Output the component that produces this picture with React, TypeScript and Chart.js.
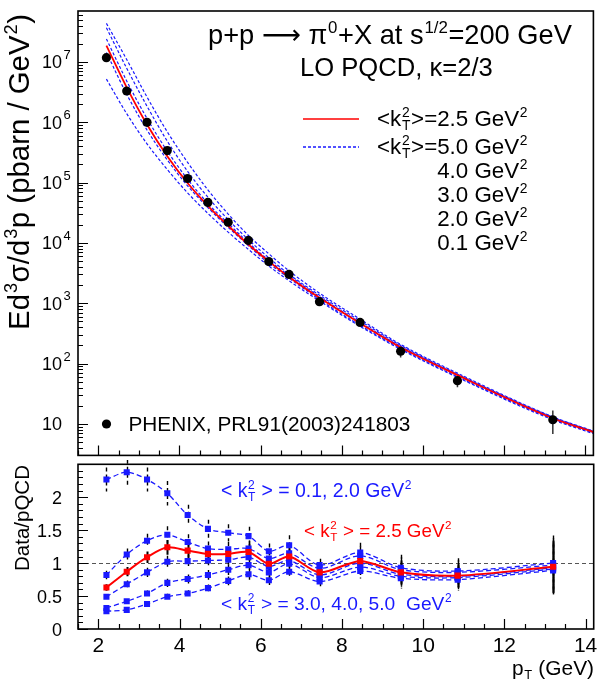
import React, { useEffect, useRef } from 'react';
import { Chart, registerables } from 'chart.js';

Chart.register(...registerables);

// ---------------- data ----------------
const pT = [2.2, 2.7, 3.2, 3.7, 4.2, 4.7, 5.2, 5.7, 6.2, 6.7, 7.45, 8.45, 9.45, 10.85, 13.2];
const phenixYield = [1.18e7, 3.3e6, 1.0e6, 3.4e5, 1.17e5, 4.7e4, 2.2e4, 1.1e4, 4.9e3, 3.0e3, 1.06e3, 480, 160, 52, 11.7];
const phenixRelErr = [0.08, 0.08, 0.08, 0.09, 0.09, 0.09, 0.09, 0.1, 0.1, 0.12, 0.1, 0.13, 0.21, 0.22, 0.42];

const curvePT = [2.2, 2.7, 3.2, 3.7, 4.2, 4.7, 5.2, 5.7, 6.2, 6.7, 7.45, 8.45, 9.45, 10.85, 13.2, 14.2];
const pqcdKt25 = [1.87e7, 3.79e6, 9.17e5, 2.74e5, 9.83e4, 4.12e4, 1.93e4, 9.4e3, 4.95e3, 2.73e3, 1.23e3, 466, 186, 64.2, 12.4, 7.3];
const pqcdKt01 = [5.2e6, 1.39e6, 4.4e5, 1.65e5, 6.76e4, 3.09e4, 1.51e4, 7.8e3, 4.15e3, 2.36e3, 1.09e3, 414, 172, 59, 11.7, 6.9];
const pqcdKt20 = [1.44e7, 2.92e6, 7.46e5, 2.38e5, 8.86e4, 3.85e4, 1.82e4, 9.0e3, 4.58e3, 2.61e3, 1.15e3, 432, 178, 60.5, 12.1, 7.1];
const pqcdKt30 = [2.41e7, 4.85e6, 1.16e6, 3.33e5, 1.14e5, 4.52e4, 2.1e4, 1.01e4, 5.16e3, 2.88e3, 1.29e3, 480, 193, 65, 12.6, 7.4];
const pqcdKt40 = [3.69e7, 7.86e6, 1.85e6, 4.86e5, 1.54e5, 5.73e4, 2.44e4, 1.13e4, 5.7e3, 3.03e3, 1.36e3, 511, 200, 66.7, 12.9, 7.5];
const pqcdKt50 = [4.37e7, 1.1e7, 2.63e6, 6.94e5, 2.17e5, 7.58e4, 3.01e4, 1.33e4, 6.62e3, 3.45e3, 1.47e3, 545, 208, 69.3, 13.1, 7.6];

const ratioKt01 = [2.27, 2.38, 2.27, 2.06, 1.73, 1.52, 1.46, 1.41, 1.18, 1.27, 0.97, 1.16, 0.93, 0.88, 1.0];
const ratioKt20 = [0.82, 1.13, 1.34, 1.43, 1.32, 1.22, 1.21, 1.22, 1.07, 1.15, 0.92, 1.11, 0.9, 0.86, 0.97];
const ratioKt25 = [0.63, 0.87, 1.09, 1.24, 1.19, 1.14, 1.14, 1.17, 0.99, 1.1, 0.86, 1.03, 0.86, 0.81, 0.945];
const ratioKt30 = [0.49, 0.68, 0.86, 1.02, 1.03, 1.04, 1.05, 1.09, 0.95, 1.04, 0.82, 1.0, 0.83, 0.8, 0.93];
const ratioKt40 = [0.32, 0.42, 0.54, 0.7, 0.76, 0.82, 0.9, 0.97, 0.86, 0.99, 0.78, 0.94, 0.8, 0.78, 0.91];
const ratioKt50 = [0.27, 0.29, 0.38, 0.49, 0.54, 0.62, 0.73, 0.83, 0.74, 0.87, 0.72, 0.88, 0.77, 0.75, 0.89];

const decadeExps = [1, 2, 3, 4, 5, 6, 7];
const xTickValues = [2, 4, 6, 8, 10, 12, 14];
const xTickLabels = ['2', '4', '6', '8', '10', '12', '14'];
const ratioTickValues = [0, 0.5, 1, 1.5, 2];
const ratioTickLabels = ['0', '0.5', '1', '1.5', '2'];
const legendKtLabels = ['4.0', '3.0', '2.0', '0.1'];

// ---------------- styling helpers ----------------
const FONT = '"Liberation Sans", "DejaVu Sans", Arial, sans-serif';
const BLUE = 'rgb(25,25,255)';
const RED = 'rgb(255,0,0)';

type Seg = { t: string; k?: 'sup' | 'sub' | 'supsub'; t2?: string };

function segW(ctx: CanvasRenderingContext2D, s: Seg, size: number): number {
  if (!s.k) {
    ctx.font = `${size}px ${FONT}`;
    return ctx.measureText(s.t).width;
  }
  const ss = size * 0.62;
  ctx.font = `${ss}px ${FONT}`;
  if (s.k === 'supsub') {
    return Math.max(ctx.measureText(s.t).width, ctx.measureText(s.t2 || '').width) + size * 0.06;
  }
  return ctx.measureText(s.t).width + size * 0.05;
}

function richW(ctx: CanvasRenderingContext2D, segs: Seg[], size: number) {
  let w = 0;
  for (const s of segs) w += segW(ctx, s, size);
  return w;
}

function fitSize(ctx: CanvasRenderingContext2D, segs: Seg[], target: number) {
  return (100 * target) / richW(ctx, segs, 100);
}

function drawRich(
  ctx: CanvasRenderingContext2D,
  segs: Seg[],
  x: number,
  y: number,
  size: number,
  align: 'left' | 'right' | 'center',
  color: string
) {
  const w = richW(ctx, segs, size);
  let cx = align === 'left' ? x : align === 'right' ? x - w : x - w / 2;
  ctx.fillStyle = color;
  ctx.textBaseline = 'alphabetic';
  ctx.textAlign = 'left';
  for (const s of segs) {
    const adv = segW(ctx, s, size);
    if (!s.k) {
      ctx.font = `${size}px ${FONT}`;
      ctx.fillText(s.t, cx, y);
    } else {
      ctx.font = `${size * 0.62}px ${FONT}`;
      const ox = cx + size * 0.03;
      if (s.k === 'sup') ctx.fillText(s.t, ox, y - size * 0.42);
      else if (s.k === 'sub') ctx.fillText(s.t, ox, y + size * 0.2);
      else {
        ctx.fillText(s.t, ox, y - size * 0.42);
        ctx.fillText(s.t2 || '', ox, y + size * 0.2);
      }
    }
    cx += adv;
  }
}

const kt = (rest: string, lead = '<k'): Seg[] => [
  { t: lead },
  { t: '2', k: 'supsub', t2: 'T' },
  { t: rest },
  { t: '2', k: 'sup' },
];

function drawFrameAndTicks(chart: any, yMajor: number[], yMinor: number[]) {
  const { ctx, chartArea: a, scales } = chart;
  const xs = scales.x;
  const ys = scales.y;
  ctx.save();
  ctx.strokeStyle = '#000';
  ctx.lineWidth = 1.2;
  ctx.beginPath();
  // x ticks (inside, from bottom)
  for (let v = 1.5; v <= 14.2001; v += 0.5) {
    const px = Math.round(xs.getPixelForValue(v)) + 0.5;
    const major = Math.abs(v / 2 - Math.round(v / 2)) < 1e-6;
    const len = major ? 10 : 5;
    ctx.moveTo(px, a.bottom);
    ctx.lineTo(px, a.bottom - len);
  }
  for (const v of yMajor) {
    const py = Math.round(ys.getPixelForValue(v)) + 0.5;
    ctx.moveTo(a.left, py);
    ctx.lineTo(a.left + 10, py);
  }
  for (const v of yMinor) {
    const py = Math.round(ys.getPixelForValue(v)) + 0.5;
    ctx.moveTo(a.left, py);
    ctx.lineTo(a.left + 5, py);
  }
  ctx.stroke();
  ctx.lineWidth = 1.6;
  ctx.strokeRect(a.left, a.top, a.right - a.left, a.bottom - a.top);
  ctx.restore();
}

// ---------------- top panel ----------------
const topPlugin = {
  id: 'topDecor',
  beforeDatasetsDraw(chart: any) {
    const { ctx, scales } = chart;
    ctx.save();
    ctx.strokeStyle = '#333';
    ctx.lineWidth = 1.5;
    ctx.beginPath();
    pT.forEach((x, i) => {
      const px = scales.x.getPixelForValue(x);
      const y1 = scales.y.getPixelForValue(phenixYield[i] * (1 + phenixRelErr[i]));
      const y2 = scales.y.getPixelForValue(phenixYield[i] * (1 - phenixRelErr[i]));
      ctx.moveTo(px, y1);
      ctx.lineTo(px, y2);
    });
    ctx.stroke();
    ctx.restore();
  },
  afterDraw(chart: any) {
    const { ctx, scales, chartArea: a } = chart;
    const ys = scales.y;
    const major = decadeExps.map((e) => Math.pow(10, e));
    const minor: number[] = [];
    for (let e = 0; e <= 7; e++)
      for (let k = 2; k <= 9; k++) {
        const v = k * Math.pow(10, e);
        if (v > ys.min && v < ys.max) minor.push(v);
      }
    drawFrameAndTicks(chart, major, minor);

    ctx.save();
    // y tick labels
    decadeExps.forEach((e) => {
      const py = ys.getPixelForValue(Math.pow(10, e));
      ctx.fillStyle = '#000';
      ctx.textAlign = 'right';
      ctx.textBaseline = 'alphabetic';
      ctx.font = `18px ${FONT}`;
      ctx.fillText('10', 62, py + 6.5);
      if (e > 1) {
        ctx.textAlign = 'left';
        ctx.font = `13px ${FONT}`;
        ctx.fillText(String(e), 63.5, py - 3);
      }
    });

    // y axis title
    const yTitle: Seg[] = [
      { t: 'Ed' },
      { t: '3', k: 'sup' },
      { t: 'σ/d' },
      { t: '3', k: 'sup' },
      { t: 'p (pbarn / GeV' },
      { t: '2', k: 'sup' },
      { t: ')' },
    ];
    const ys1 = fitSize(ctx, yTitle, 316);
    ctx.save();
    ctx.translate(29, 172);
    ctx.rotate(-Math.PI / 2);
    drawRich(ctx, yTitle, 0, 0, ys1, 'center', '#000');
    ctx.restore();

    // title
    const t1: Seg[] = [
      { t: 'p+p \u27f6 \u03c0' },
      { t: '0', k: 'sup' },
      { t: '+X at s' },
      { t: '1/2', k: 'sup' },
      { t: '=200 GeV' },
    ];
    drawRich(ctx, t1, 208, 44, fitSize(ctx, t1, 364), 'left', '#000');
    const t2: Seg[] = [{ t: 'LO PQCD, \u03ba=2/3' }];
    drawRich(ctx, t2, 300, 76, fitSize(ctx, t2, 193), 'left', '#000');

    // legend
    ctx.lineWidth = 1.6;
    ctx.strokeStyle = RED;
    ctx.beginPath();
    ctx.moveTo(303, 119);
    ctx.lineTo(359, 119);
    ctx.stroke();
    ctx.strokeStyle = BLUE;
    ctx.lineWidth = 1.3;
    ctx.setLineDash([3, 2]);
    ctx.beginPath();
    ctx.moveTo(303, 147);
    ctx.lineTo(359, 147);
    ctx.stroke();
    ctx.setLineDash([]);

    const l1 = kt('>=2.5 GeV');
    const ls = fitSize(ctx, l1, 151);
    drawRich(ctx, l1, 528, 126, ls, 'right', '#000');
    drawRich(ctx, kt('>=5.0 GeV'), 528, 154, ls, 'right', '#000');
    legendKtLabels.forEach((lab, i) => {
      drawRich(ctx, [{ t: lab + ' GeV' }, { t: '2', k: 'sup' }], 528, 178 + i * 24, ls, 'right', '#000');
    });

    // PHENIX legend
    ctx.fillStyle = '#000';
    ctx.beginPath();
    ctx.arc(106.5, 424, 4.6, 0, Math.PI * 2);
    ctx.fill();
    const ph: Seg[] = [{ t: 'PHENIX, PRL91(2003)241803' }];
    drawRich(ctx, ph, 128.5, 431, fitSize(ctx, ph, 282), 'left', '#000');
    ctx.restore();
  },
};

// ---------------- bottom panel ----------------
const ratioSeries = [ratioKt25, ratioKt01, ratioKt20, ratioKt30, ratioKt40, ratioKt50];

const bottomPlugin = {
  id: 'bottomDecor',
  beforeDatasetsDraw(chart: any) {
    const { ctx, scales, chartArea: a } = chart;
    ctx.save();
    // dashed reference line at 1
    ctx.strokeStyle = '#555';
    ctx.lineWidth = 1.2;
    ctx.setLineDash([4, 3]);
    ctx.beginPath();
    const p1 = Math.round(scales.y.getPixelForValue(1)) + 0.5;
    ctx.moveTo(a.left, p1);
    ctx.lineTo(a.right, p1);
    ctx.stroke();
    // error bars
    ctx.strokeStyle = '#000';
    ratioSeries.forEach((r, si) => {
      ctx.lineWidth = si === 0 ? 2 : 1.4;
      ctx.setLineDash(si === 0 ? [] : [4, 3]);
      ctx.beginPath();
      pT.forEach((x, i) => {
        const px = Math.round(scales.x.getPixelForValue(x)) + 0.5;
        ctx.moveTo(px, scales.y.getPixelForValue(r[i] * (1 + phenixRelErr[i])));
        ctx.lineTo(px, scales.y.getPixelForValue(r[i] * (1 - phenixRelErr[i])));
      });
      ctx.stroke();
    });
    ctx.restore();
  },
  afterDraw(chart: any) {
    const { ctx, scales } = chart;
    const minor: number[] = [];
    for (let i = 1; i <= 24; i++) if (i % 5 !== 0) minor.push(i / 10);
    drawFrameAndTicks(chart, ratioTickValues, minor);
    ctx.save();
    const off = chart.canvas.offsetTop || 0;
    ctx.fillStyle = '#000';
    ctx.textBaseline = 'alphabetic';
    ctx.font = `18px ${FONT}`;
    ctx.textAlign = 'right';
    ratioTickValues.forEach((v, i) => {
      ctx.fillText(ratioTickLabels[i], 62, scales.y.getPixelForValue(v) + 6.5);
    });
    ctx.font = `21px ${FONT}`;
    ctx.textAlign = 'center';
    xTickValues.forEach((v, i) => {
      ctx.fillText(xTickLabels[i], scales.x.getPixelForValue(v), 652 - 460);
    });
    const xt: Seg[] = [{ t: 'p' }, { t: 'T', k: 'sub' }, { t: ' (GeV)' }];
    drawRich(ctx, xt, 594, 675 - 460, fitSize(ctx, xt, 82), 'right', '#000');

    const yt: Seg[] = [{ t: 'Data/pQCD' }];
    ctx.save();
    ctx.translate(29, 518 - 460);
    ctx.rotate(-Math.PI / 2);
    drawRich(ctx, yt, 0, 0, fitSize(ctx, yt, 106), 'center', '#000');
    ctx.restore();

    const b1 = kt(' > = 0.1, 2.0 GeV', '< k');
    drawRich(ctx, b1, 221, 497 - 460, fitSize(ctx, b1, 191), 'left', BLUE);
    const b2 = kt(' > = 2.5 GeV', '< k');
    drawRich(ctx, b2, 304, 537 - 460, fitSize(ctx, b2, 148), 'left', RED);
    const b3 = kt(' > = 3.0, 4.0, 5.0  GeV', '< k');
    drawRich(ctx, b3, 221, 610 - 460, fitSize(ctx, b3, 231), 'left', BLUE);
    ctx.restore();
    void off;
  },
};

function xy(xs: number[], ys: number[]) {
  return xs.map((x, i) => ({ x, y: ys[i] }));
}

export default function App() {
  const topRef = useRef<HTMLCanvasElement>(null);
  const botRef = useRef<HTMLCanvasElement>(null);

  useEffect(() => {
    const blueCurve = (d: number[]) => ({
      data: xy(curvePT, d),
      borderColor: BLUE,
      borderWidth: 1.2,
      borderDash: [3, 2],
      pointRadius: 0,
      fill: false,
      cubicInterpolationMode: 'monotone' as const,
    });
    const top = new Chart(topRef.current!, {
      type: 'line',
      data: {
        datasets: [
          {
            data: xy(pT, phenixYield),
            showLine: false,
            pointRadius: 4.6,
            pointBackgroundColor: '#000',
            pointBorderColor: '#000',
            pointBorderWidth: 0,
          },
          {
            data: xy(curvePT, pqcdKt25),
            borderColor: RED,
            borderWidth: 1.8,
            pointRadius: 0,
            fill: false,
            cubicInterpolationMode: 'monotone',
          },
          blueCurve(pqcdKt01),
          blueCurve(pqcdKt20),
          blueCurve(pqcdKt30),
          blueCurve(pqcdKt40),
          blueCurve(pqcdKt50),
        ] as any,
      },
      options: {
        responsive: false,
        animation: false,
        devicePixelRatio: 1,
        layout: { padding: { left: 78, right: 2, top: 11, bottom: 3 } },
        plugins: { legend: { display: false }, tooltip: { enabled: false } },
        scales: {
          x: { type: 'linear', min: 1.5, max: 14.2, display: false },
          y: { type: 'logarithmic', min: 3, max: 7e7, display: false },
        },
      },
      plugins: [topPlugin],
    });

    const ratioSet = (d: number[], color: string, dashed: boolean) => ({
      data: xy(pT, d),
      borderColor: color,
      borderWidth: dashed ? 1.3 : 2,
      borderDash: dashed ? [5, 3] : [],
      pointStyle: 'rect',
      pointRadius: 4.3,
      pointBackgroundColor: color,
      pointBorderColor: color,
      pointBorderWidth: 0,
      tension: 0.3,
      fill: false,
    });
    const bot = new Chart(botRef.current!, {
      type: 'line',
      data: {
        datasets: [
          ratioSet(ratioKt25, RED, false),
          ratioSet(ratioKt01, BLUE, true),
          ratioSet(ratioKt20, BLUE, true),
          ratioSet(ratioKt30, BLUE, true),
          ratioSet(ratioKt40, BLUE, true),
          ratioSet(ratioKt50, BLUE, true),
        ] as any,
      },
      options: {
        responsive: false,
        animation: false,
        devicePixelRatio: 1,
        layout: { padding: { left: 78, right: 2, top: 3, bottom: 54 } },
        plugins: { legend: { display: false }, tooltip: { enabled: false } },
        scales: {
          x: { type: 'linear', min: 1.5, max: 14.2, display: false },
          y: { type: 'linear', min: 0, max: 2.5, display: false },
        },
      },
      plugins: [bottomPlugin],
    });
    return () => {
      top.destroy();
      bot.destroy();
    };
  }, []);

  return (
    <div style={{ position: 'absolute', left: 0, top: 0, width: 598, height: 683, background: '#fff' }}>
      <canvas ref={topRef} width={598} height={460} style={{ position: 'absolute', left: 0, top: 0 }} />
      <canvas ref={botRef} width={598} height={223} style={{ position: 'absolute', left: 0, top: 460 }} />
    </div>
  );
}
